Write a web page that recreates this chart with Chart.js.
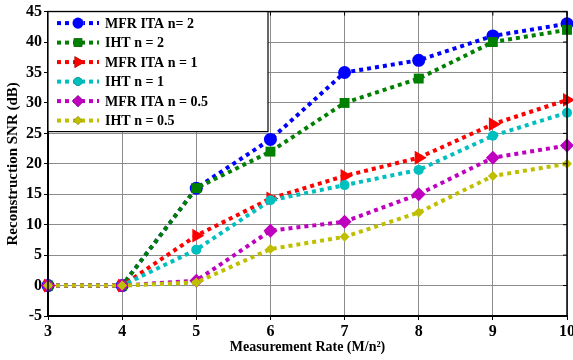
<!DOCTYPE html>
<html>
<head>
<meta charset="utf-8">
<script src="https://cdn.jsdelivr.net/npm/chart.js@4"></script>
<style>
  html, body { margin: 0; padding: 0; background: #fff; overflow: hidden; }
  #wrap { width: 577px; height: 360px; position: relative; }
</style>
</head>
<body>
<div id="wrap"><canvas id="c"></canvas></div>
<script>
// ── Data ─────────────────────────────────────────────────────
const rates = [3, 4, 5, 6, 7, 8, 9, 10];
const mfrN2  = [0, 0, 16, 24, 35, 37, 41, 43];
const ihtN2  = [0, 0, 16, 22, 30, 34, 40, 42];
const mfrN1  = [0, 0, 8.2, 14.3, 18, 21, 26.5, 30.5];
const ihtN1  = [0, 0, 5.9, 14, 16.5, 19, 24.6, 28.4];
const mfrN05 = [0, 0, 0.8, 9, 10.5, 15, 21, 23];
const ihtN05 = [0, 0, 0.5, 6, 8, 12, 18, 20];
const yTicks = [-5, 0, 5, 10, 15, 20, 25, 30, 35, 40, 45];

const FONT = '"Liberation Serif", "Times New Roman", serif';

function series(label, vals, color, style, radius, order, rot = 0) {
  return {
    label, order,
    data: rates.map((x, i) => ({ x, y: vals[i] })),
    borderColor: color, backgroundColor: color,
    borderWidth: 4, borderDash: [4, 4], borderCapStyle: 'butt',
    pointStyle: style, pointRadius: radius, pointRotation: rot,
    pointBorderWidth: 0, pointHoverRadius: radius,
    clip: false, tension: 0
  };
}

// later series drawn on top (higher order = drawn first)
const datasets = [
  series('MFR ITA n= 2',    mfrN2,  '#0000ff', 'circle',   6.5, 6),
  series('IHT n = 2',       ihtN2,  '#008000', 'rect',     7,   5),
  series('MFR ITA n = 1',   mfrN1,  '#ff0000', 'triangle', 8,   4, 90),
  series('IHT n = 1',       ihtN1,  '#00bfbf', 'circle',   5,   3),
  series('MFR ITA n = 0.5', mfrN05, '#bf00bf', 'rectRot',  7,   2),
  series('IHT n = 0.5',     ihtN05, '#bfbf00', 'rectRot',  5,   1),
];

// ── Frame + legend box drawn on top ──────────────────────────
const framePlugin = {
  id: 'frame',
  afterDatasetsDraw(chart) {
    const { ctx, chartArea: a } = chart;
    ctx.save();
    ctx.strokeStyle = '#000';
    ctx.lineWidth = 1.5;
    ctx.strokeRect(a.left, a.top, a.right - a.left, a.bottom - a.top);
    // inner ticks on top and right edges
    const xs = chart.scales.x, ys = chart.scales.y;
    ctx.lineWidth = 1;
    rates.forEach(v => {
      const px = xs.getPixelForValue(v);
      ctx.beginPath(); ctx.moveTo(px, a.top); ctx.lineTo(px, a.top + 4); ctx.stroke();
    });
    yTicks.forEach(v => {
      const py = ys.getPixelForValue(v);
      ctx.beginPath(); ctx.moveTo(a.right, py); ctx.lineTo(a.right - 4, py); ctx.stroke();
    });

    // legend
    const lx = a.left, ly = a.top, lw = 220, lh = 120;
    ctx.fillStyle = '#fff';
    ctx.fillRect(lx, ly, lw, lh);
    ctx.strokeStyle = '#000';
    ctx.lineWidth = 1.2;
    ctx.strokeRect(lx, ly, lw, lh);
    ctx.font = 'bold 14px ' + FONT;
    ctx.textBaseline = 'middle';
    chart.data.datasets.forEach((ds, i) => {
      const cy = ly + 11.5 + i * 19.5;
      ctx.save();
      ctx.strokeStyle = ds.borderColor;
      ctx.lineWidth = 4;
      ctx.setLineDash([4, 4]);
      ctx.beginPath(); ctx.moveTo(lx + 9, cy); ctx.lineTo(lx + 51, cy); ctx.stroke();
      ctx.restore();
      Chart.helpers.drawPoint(ctx, {
        pointStyle: ds.pointStyle, radius: ds.pointRadius * 0.85,
        rotation: ds.pointRotation, borderWidth: 0
      }, lx + 30, cy);
      ctx.fillStyle = ds.borderColor;
      ctx.fill();
      ctx.fillStyle = '#000';
      ctx.fillText(ds.label, lx + 57, cy + 1);
    });
    ctx.restore();
  }
};

new Chart(document.getElementById('c'), {
  type: 'line',
  data: { datasets },
  options: {
    responsive: true, maintainAspectRatio: false, animation: false,
    layout: { padding: { top: 11, right: 0, left: 0, bottom: 0 } },
    plugins: { legend: { display: false }, tooltip: { enabled: false } },
    scales: {
      x: {
        type: 'linear', min: 3, max: 10,
        afterBuildTicks: s => { s.ticks = rates.map(v => ({ value: v })); },
        afterFit: s => { s.height = 44; },
        ticks: { color: '#000', font: { family: FONT, size: 16, weight: 'bold' }, padding: 2, maxRotation: 0 },
        grid: { color: '#8c8c8c', lineWidth: 1, tickLength: 4, drawTicks: true, tickColor: '#000' },
        border: { color: '#000', width: 2 },
        title: { display: true, text: 'Measurement Rate (M/n²)', color: '#000', font: { family: FONT, size: 14, weight: 'bold' }, padding: { top: 2 } }
      },
      y: {
        min: -5, max: 45,
        afterBuildTicks: s => { s.ticks = yTicks.map(v => ({ value: v })); },
        afterFit: s => { s.width = 48; },
        ticks: { color: '#000', font: { family: FONT, size: 16, weight: 'bold' }, padding: 2 },
        grid: { color: '#8c8c8c', lineWidth: 1, tickLength: 4, tickColor: '#000' },
        border: { color: '#000', width: 2 },
        title: { display: true, text: 'Reconstruction SNR (dB)', color: '#000', font: { family: FONT, size: 15, weight: 'bold' }, padding: { bottom: 0 } }
      }
    }
  },
  plugins: [framePlugin]
});
</script>
</body>
</html>
